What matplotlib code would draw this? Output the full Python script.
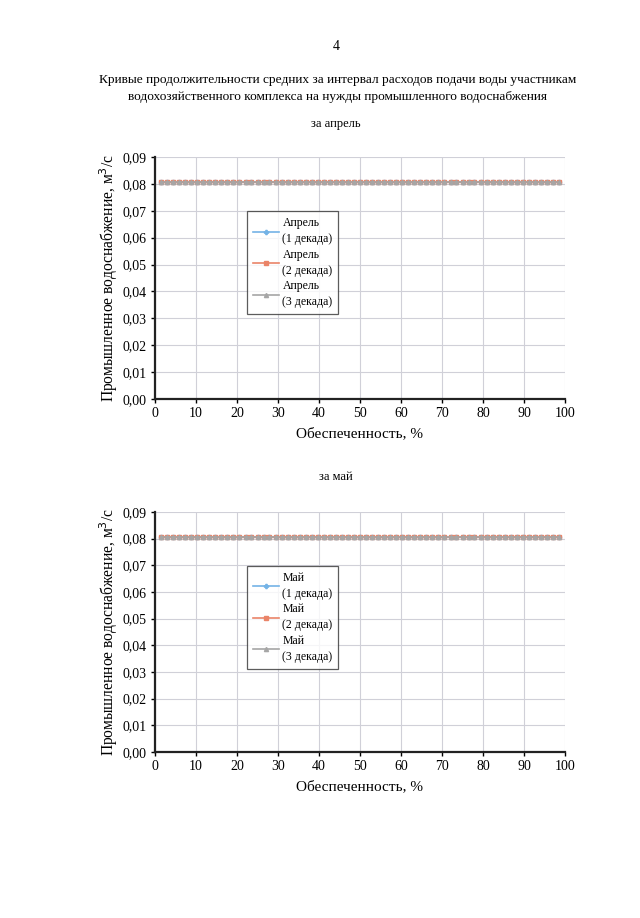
import matplotlib
matplotlib.use("Agg")
import matplotlib.pyplot as plt
from matplotlib.ticker import MultipleLocator, FuncFormatter

# обеспеченность, %
prob = [1.5, 2.9, 4.4, 5.9, 7.4, 8.8, 10.3, 11.8, 13.2, 14.7,
        16.2, 17.6, 19.1, 20.6, 22.1, 23.5, 25.0, 26.5, 27.9, 29.4,
        30.9, 32.4, 33.8, 35.3, 36.8, 38.2, 39.7, 41.2, 42.6, 44.1,
        45.6, 47.1, 48.5, 50.0, 51.5, 52.9, 54.4, 55.9, 57.4, 58.8,
        60.3, 61.8, 63.2, 64.7, 66.2, 67.6, 69.1, 70.6, 72.1, 73.5,
        75.0, 76.5, 77.9, 79.4, 80.9, 82.4, 83.8, 85.3, 86.8, 88.2,
        89.7, 91.2, 92.6, 94.1, 95.6, 97.1, 98.5]

# расходы, м3/с (апрель)
apr_1 = [0.0806, 0.0806, 0.0806, 0.0806, 0.0806, 0.0806, 0.0806, 0.0806, 0.0806, 0.0806,
         0.0806, 0.0806, 0.0806, 0.0806, 0.0806, 0.0806, 0.0806, 0.0806, 0.0806, 0.0806,
         0.0806, 0.0806, 0.0806, 0.0806, 0.0806, 0.0806, 0.0806, 0.0806, 0.0806, 0.0806,
         0.0806, 0.0806, 0.0806, 0.0806, 0.0806, 0.0806, 0.0806, 0.0806, 0.0806, 0.0806,
         0.0806, 0.0806, 0.0806, 0.0806, 0.0806, 0.0806, 0.0806, 0.0806, 0.0806, 0.0806,
         0.0806, 0.0806, 0.0806, 0.0806, 0.0806, 0.0806, 0.0806, 0.0806, 0.0806, 0.0806,
         0.0806, 0.0806, 0.0806, 0.0806, 0.0806, 0.0806, 0.0806]
apr_2 = [0.0808, 0.0808, 0.0808, 0.0808, 0.0808, 0.0808, 0.0808, 0.0808, 0.0808, 0.0808,
         0.0808, 0.0808, 0.0808, 0.0808, 0.0808, 0.0808, 0.0808, 0.0808, 0.0808, 0.0808,
         0.0808, 0.0808, 0.0808, 0.0808, 0.0808, 0.0808, 0.0808, 0.0808, 0.0808, 0.0808,
         0.0808, 0.0808, 0.0808, 0.0808, 0.0808, 0.0808, 0.0808, 0.0808, 0.0808, 0.0808,
         0.0808, 0.0808, 0.0808, 0.0808, 0.0808, 0.0808, 0.0808, 0.0808, 0.0808, 0.0808,
         0.0808, 0.0808, 0.0808, 0.0808, 0.0808, 0.0808, 0.0808, 0.0808, 0.0808, 0.0808,
         0.0808, 0.0808, 0.0808, 0.0808, 0.0808, 0.0808, 0.0808]
apr_3 = [0.0806, 0.0806, 0.0806, 0.0806, 0.0806, 0.0806, 0.0806, 0.0806, 0.0806, 0.0806,
         0.0806, 0.0806, 0.0806, 0.0806, 0.0806, 0.0806, 0.0806, 0.0806, 0.0806, 0.0806,
         0.0806, 0.0806, 0.0806, 0.0806, 0.0806, 0.0806, 0.0806, 0.0806, 0.0806, 0.0806,
         0.0806, 0.0806, 0.0806, 0.0806, 0.0806, 0.0806, 0.0806, 0.0806, 0.0806, 0.0806,
         0.0806, 0.0806, 0.0806, 0.0806, 0.0806, 0.0806, 0.0806, 0.0806, 0.0806, 0.0806,
         0.0806, 0.0806, 0.0806, 0.0806, 0.0806, 0.0806, 0.0806, 0.0806, 0.0806, 0.0806,
         0.0806, 0.0806, 0.0806, 0.0806, 0.0806, 0.0806, 0.0806]

# май - на графике те же значения
may_1 = apr_1
may_2 = apr_2
may_3 = apr_3

plt.rcParams['font.family'] = ['Liberation Serif', 'DejaVu Serif']

fig = plt.figure(figsize=(6.4, 9.18), dpi=100)
fig.patch.set_facecolor("white")

fig.text(0.525, 1 - 47 / 918, "4", ha="center", va="center", fontsize=10)
fig.text(0.527, 1 - 80 / 918,
         "Кривые продолжительности средних за интервал расходов подачи воды участникам",
         ha="center", va="center", fontsize=9.6)
fig.text(0.527, 1 - 97 / 918,
         "водохозяйственного комплекса на нужды промышленного водоснабжения",
         ha="center", va="center", fontsize=9.6)


def draw(ax, month, s1, s2, s3):
    ax.plot(prob, s1, color="#74b3e6", marker="P", markersize=3, lw=1.2,
            label=month + "\n(1 декада)")
    ax.plot(prob, s2, color="#ea8468", marker="s", markersize=3, lw=1.2,
            label=month + "\n(2 декада)")
    ax.plot(prob, s3, color="#a6a6a6", marker="^", markersize=3, lw=1.2,
            label=month + "\n(3 декада)")
    ax.set_xlim(0, 100)
    ax.set_ylim(0, 0.09)
    ax.xaxis.set_major_locator(MultipleLocator(10))
    ax.yaxis.set_major_locator(MultipleLocator(0.01))
    ax.yaxis.set_major_formatter(FuncFormatter(lambda v, p: f"{v:.2f}".replace(".", ",")))
    ax.grid(True, color="#d0d0d8", lw=0.8)
    ax.set_axisbelow(True)
    for s in ["top", "right"]:
        ax.spines[s].set_visible(False)
    for s in ["left", "bottom"]:
        ax.spines[s].set_linewidth(1.6)
        ax.spines[s].set_color("#222222")
    ax.tick_params(labelsize=10, length=3, width=1, direction="out", pad=3)
    ax.set_xlabel("Обеспеченность, %", fontsize=11, labelpad=5)
    ax.set_ylabel("Промышленное водоснабжение, м$^3$/с", fontsize=11.2, labelpad=2)
    leg = ax.legend(loc="upper left", bbox_to_anchor=(0.21, 0.8), fontsize=8.5,
                    frameon=True, fancybox=False, handlelength=2.2,
                    borderpad=0.5, labelspacing=0.3, handletextpad=0.3)
    for t in leg.get_texts():
        t.set_linespacing(1.45)
        t.set_multialignment("left")
    leg.get_frame().set_edgecolor("#333333")
    leg.get_frame().set_linewidth(0.9)


ax1 = fig.add_axes([155 / 640, 1 - 399 / 918, 410 / 640, 242 / 918])
draw(ax1, "Апрель", apr_1, apr_2, apr_3)
fig.text(0.525, 1 - 124 / 918, "за апрель", ha="center", va="center", fontsize=9)

ax2 = fig.add_axes([155 / 640, 1 - 752 / 918, 410 / 640, 240 / 918])
draw(ax2, "Май", may_1, may_2, may_3)
fig.text(0.525, 1 - 477 / 918, "за май", ha="center", va="center", fontsize=9)

fig.savefig("out.png", dpi=100)
